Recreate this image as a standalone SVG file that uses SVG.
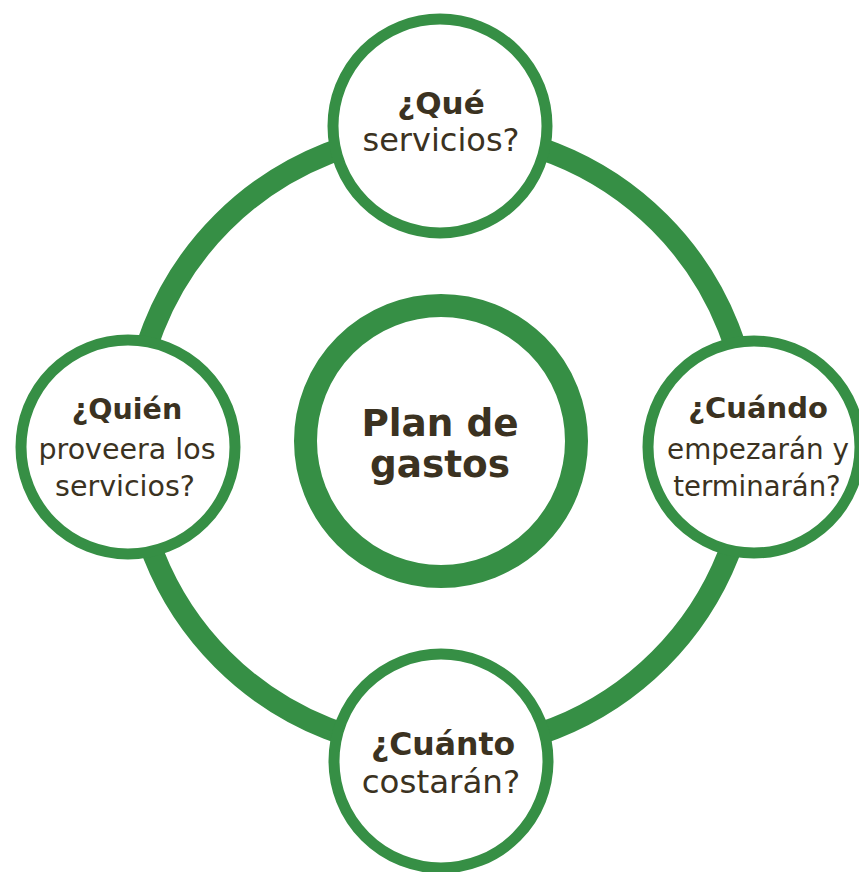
<svg xmlns="http://www.w3.org/2000/svg" width="859" height="872" viewBox="0 0 859 872">
<style>
.ring{fill:none;stroke:#368f45;stroke-width:22}
.node{fill:#ffffff;stroke:#368f45;stroke-width:11}
.hub{fill:#ffffff;stroke:#368f45;stroke-width:23}
text{font-family:"DejaVu Sans","Liberation Sans",sans-serif;fill:#3b3221;text-anchor:middle}
.b{font-weight:bold}
.r{font-weight:normal}
</style>
<rect width="859" height="872" fill="#ffffff"/>
<g id="connectors">
<circle class="ring" cx="441" cy="441" r="309"/>
</g>
<g id="node-top">
<circle class="node" cx="440" cy="126" r="107"/>
<text class="b" x="441" y="114" font-size="31">¿Qué</text>
<text class="r" x="441" y="151" font-size="32">servicios?</text>
</g>
<g id="node-left">
<circle class="node" cx="128" cy="447" r="107"/>
<text class="b" x="127" y="419" font-size="28.5">¿Quién</text>
<text class="r" x="127" y="459" font-size="28.5">proveera los</text>
<text class="r" x="125" y="496" font-size="28.5">servicios?</text>
</g>
<g id="node-right">
<circle class="node" cx="754" cy="447" r="106"/>
<text class="b" x="758" y="418" font-size="29">¿Cuándo</text>
<text class="r" x="758" y="459" font-size="27.8">empezarán y</text>
<text class="r" x="757" y="496" font-size="27.5">terminarán?</text>
</g>
<g id="node-bottom">
<circle class="node" cx="441" cy="761" r="107"/>
<text class="b" x="443" y="755" font-size="31.5">¿Cuánto</text>
<text class="r" x="441" y="793" font-size="32.5">costarán?</text>
</g>
<g id="node-center">
<circle class="hub" cx="441" cy="441" r="135.5"/>
<text class="b" x="440" y="436" font-size="37.4">Plan de</text>
<text class="b" x="440" y="477" font-size="37.4">gastos</text>
</g>
</svg>
